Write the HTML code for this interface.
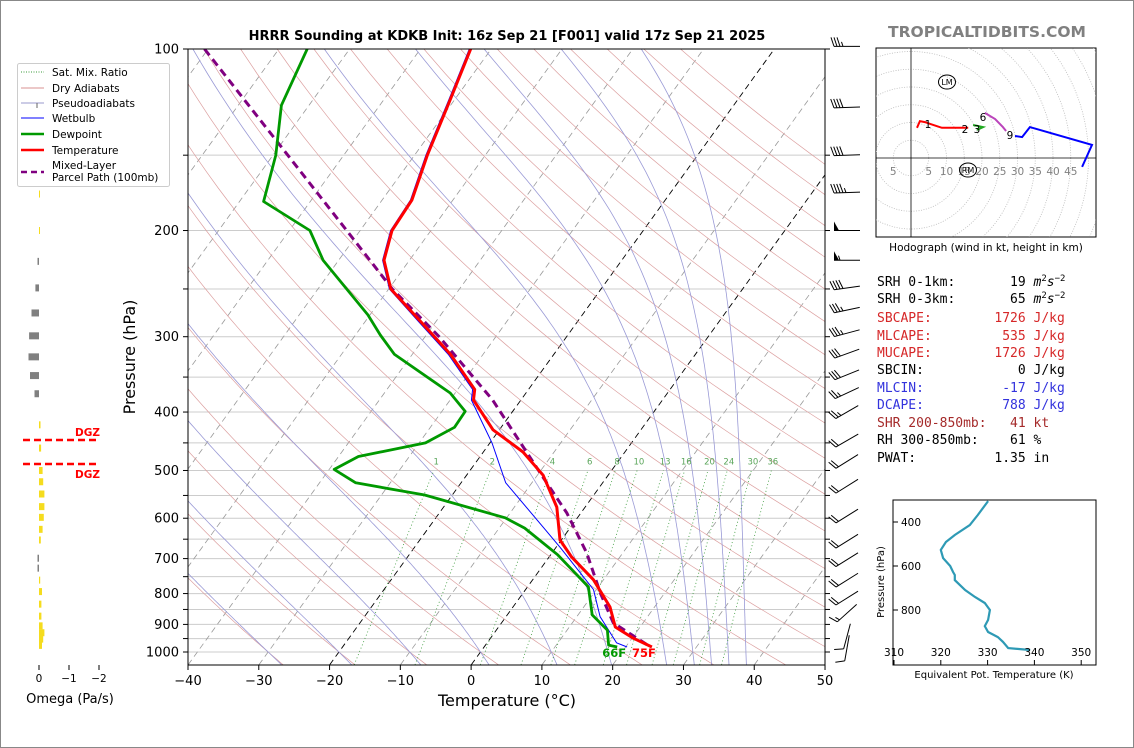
<!DOCTYPE html>
<html><head><meta charset="utf-8"><style>
html,body{margin:0;padding:0;background:#fff;}
svg{display:block;font-family:"DejaVu Sans","Liberation Sans",sans-serif;}
</style></head><body>
<svg id="fig" width="1134" height="748" viewBox="0 0 1134 748" xmlns="http://www.w3.org/2000/svg">
<rect x="0.5" y="0.5" width="1133" height="747" fill="#fff" stroke="#888"/>
<defs><clipPath id="mainclip"><rect x="188" y="49" width="637" height="616"/></clipPath>
<clipPath id="hodoclip"><rect x="876" y="48" width="220" height="189"/></clipPath>
<clipPath id="thclip"><rect x="893" y="500" width="203" height="165"/></clipPath></defs>
<g id="bg" clip-path="url(#mainclip)"></g>
<g id="prof" clip-path="url(#mainclip)"></g>
<g id="axes"></g>
<g id="omega"></g>
<g id="barbs"></g>
<g id="hodo"></g>
<g id="theta"></g>
<text x="507" y="40" text-anchor="middle" font-size="13" font-weight="bold">HRRR Sounding at KDKB Init: 16z Sep 21 [F001] valid 17z Sep 21 2025</text>
<text x="987" y="37" text-anchor="middle" font-size="15.5" font-weight="bold" fill="#808080">TROPICALTIDBITS.COM</text>
<text x="507" y="706" text-anchor="middle" font-size="16">Temperature (°C)</text>
<text transform="translate(135,357) rotate(-90)" text-anchor="middle" font-size="16">Pressure (hPa)</text>
<g>
<rect x="17.5" y="63.5" width="152" height="123" fill="#fff" stroke="#ccc" rx="2"/>
<line x1="21" y1="72" x2="44" y2="72" stroke="#3a9a3a" stroke-dasharray="1,1.5"/><text x="52" y="76" font-size="10.5">Sat. Mix. Ratio</text>
<line x1="21" y1="88" x2="44" y2="88" stroke="#d89090"/><text x="52" y="92" font-size="10.5">Dry Adiabats</text>
<line x1="21" y1="103" x2="44" y2="103" stroke="#9999cc"/><line x1="37" y1="103" x2="37" y2="108" stroke="#666"/><text x="52" y="107" font-size="10.5">Pseudoadiabats</text>
<line x1="21" y1="118" x2="44" y2="118" stroke="#0000ff"/><text x="52" y="122" font-size="10.5">Wetbulb</text>
<line x1="21" y1="134" x2="44" y2="134" stroke="#009900" stroke-width="2.5"/><text x="52" y="138" font-size="10.5">Dewpoint</text>
<line x1="21" y1="150" x2="44" y2="150" stroke="#ff0000" stroke-width="2.5"/><text x="52" y="154" font-size="10.5">Temperature</text>
<line x1="21" y1="172" x2="44" y2="172" stroke="#800080" stroke-width="2.5" stroke-dasharray="6,4"/><text x="52" y="169" font-size="10.5">Mixed-Layer</text><text x="52" y="181" font-size="10.5">Parcel Path (100mb)</text>
</g>
<g font-family="'DejaVu Sans Mono','Liberation Mono',monospace" font-size="13">
<text x="877" y="286" xml:space="preserve">SRH 0-1km:       19 <tspan font-style="italic">m</tspan><tspan font-size="9" dy="-5">2</tspan><tspan dy="5" font-style="italic">s</tspan><tspan font-size="9" dy="-5">−2</tspan></text>
<text x="877" y="303" xml:space="preserve">SRH 0-3km:       65 <tspan font-style="italic">m</tspan><tspan font-size="9" dy="-5">2</tspan><tspan dy="5" font-style="italic">s</tspan><tspan font-size="9" dy="-5">−2</tspan></text>
<text x="877" y="322" fill="#d62728" xml:space="preserve">SBCAPE:        1726 J/kg</text>
<text x="877" y="340" fill="#d62728" xml:space="preserve">MLCAPE:         535 J/kg</text>
<text x="877" y="357" fill="#d62728" xml:space="preserve">MUCAPE:        1726 J/kg</text>
<text x="877" y="374" xml:space="preserve">SBCIN:            0 J/kg</text>
<text x="877" y="392" fill="#3333dd" xml:space="preserve">MLCIN:          -17 J/kg</text>
<text x="877" y="409" fill="#3333dd" xml:space="preserve">DCAPE:          788 J/kg</text>
<text x="877" y="427" fill="#a52a2a" xml:space="preserve">SHR 200-850mb:   41 kt</text>
<text x="877" y="444" xml:space="preserve">RH 300-850mb:    61 %</text>
<text x="877" y="462" xml:space="preserve">PWAT:          1.35 in</text>
</g>
</svg>
<script>
// ---------- data ----------
const tempP = [100,121.5,150,178,200,224,250,282,321,367,382,428,466,509,575,652,696,759,842,909,948,981];
const tempT = [-62.9,-60.6,-58.2,-55.8,-55.5,-53.6,-49.7,-42.4,-34.6,-27.6,-26.7,-20.9,-14.4,-9.2,-4.0,-0.2,3.2,8.6,13.7,16.5,20.1,23.7];
const dewP = [100,124,150,179,200,224,276,298,321,372,399,424,450,474,498,524,549,599,623,690,780,868,920,974,981];
const dewT = [-86,-83.9,-79.6,-76.6,-67.1,-62.2,-50.3,-46.5,-42.5,-30.7,-26.7,-26.6,-29.1,-37.2,-39.3,-34.9,-23.9,-10.2,-6.4,1.0,8.6,12.0,15.7,17.4,18.8];
const parcelP = [100,150,200,250,300,382,514,588,685,798,895,974];
const parcelT = [-100.5,-77.9,-61.9,-49.5,-38.0,-24.0,-8.9,-2.0,4.9,10.9,15.8,22.9];
const wbP = [100,121.5,150,178,200,224,250,282,321,367,382,450,524,627,672,788,874,966,981];
const wbT = [-63.1,-60.8,-58.4,-56.0,-55.7,-53.8,-49.9,-42.7,-34.9,-27.9,-27.0,-19.7,-13.7,-3.3,0.7,9.6,13.3,18.3,20.2];
const mixRatios = [1,2,4,6,8,10,13,16,20,24,30,36];
const dryTheta0 = [-30,-20,-10,0,10,20,30,40,50,60,70,80,90,100,110,120,130,140,150,160,170,180,190];
const moistT0 = [-30,-20,-10,0,10,18,26,30,32.5,35,37.5];
const isobars = [100,150,200,250,300,350,400,450,500,550,600,650,700,750,800,850,900,950,1000];
const pLabels = [100,200,300,400,500,600,700,800,900,1000];
const tTicks = [-40,-30,-20,-10,0,10,20,30,40,50];
const omegaP = [174,200,225,249,274,299,324,348,373,420,459,500,522,547,574,598,626,652,699,726,760,794,833,872,905,929,952,975];
const omegaV = [-0.03,-0.03,0.05,0.12,0.25,0.33,0.35,0.3,0.15,-0.05,-0.07,-0.12,-0.14,-0.18,-0.18,-0.16,-0.12,-0.06,0.05,0.05,-0.04,-0.1,-0.08,-0.08,-0.12,-0.18,-0.14,-0.1];
const windP = [99,125,150,173,200,224,249,271,296,320,347,372,400,446,483,531,595,655,703,760,814,862,942,985];
const windDir = [270,268,268,268,270,270,262,258,255,250,248,245,240,240,238,238,238,238,238,238,238,228,195,190];
const windSpd = [35,40,40,45,50,55,40,35,35,30,30,25,25,20,20,20,20,20,20,20,20,15,10,10];
const hodoRedU = [1.7,2.5,3.9,5.4,8.7,13.8,16.1];
const hodoRedV = [8.5,10.4,10.1,9.6,8.5,8.5,8.5];
const hodoGreenU = [17.5,20.3,18.6];
const hodoGreenV = [9.3,8.7,7.9];
const hodoMagU = [20.8,23.7,25.9,26.8];
const hodoMagV = [12.7,11.0,8.7,7.6];
const hodoBlueU = [29.3,31.3,33.5,51,48.2];
const hodoBlueV = [6.2,5.9,8.7,3.7,-2.5];
const thetaP = [305,368,414,459,491,527,564,600,627,641,664,709,741,768,800,845,873,900,923,945,973,982];
const thetaE = [330.1,327.9,326.2,323.0,321.1,320.0,320.5,322.0,322.6,323.0,323.0,325.2,327.3,329.4,330.5,330.1,329.4,330.1,332.2,333.3,334.4,339.1];

// ---------- helpers ----------
const NS='http://www.w3.org/2000/svg';
function mk(tag, attrs, parent){const e=document.createElementNS(NS,tag);for(const k in attrs)e.setAttribute(k,attrs[k]);parent.appendChild(e);return e;}
const yP = p => 49 + 603*Math.log10(p/100);
const xT = (T,p) => 188 + (T+40)*7.078 + 0.722*(665 - yP(p));
function pathPT(P,T){return P.map((p,i)=>(i?'L':'M')+xT(T[i],p).toFixed(1)+','+yP(p).toFixed(1)).join('');}
const bg=document.getElementById('bg'), prof=document.getElementById('prof'), axes=document.getElementById('axes');

isobars.forEach(p=>{const l=mk('line',{x1:188,x2:825,y1:yP(p),y2:yP(p),stroke:'#cccccc','stroke-width':1},bg);

});
for(let T=-130;T<=50;T+=10){const hi=(T===0||T===-20);
 const l=mk('line',{x1:xT(T,1050),y1:yP(1050),x2:xT(T,100),y2:yP(100),stroke:hi?'#000':'#999','stroke-width':hi?0.9:0.8,'stroke-dasharray':'6,4'},bg);
 
 }
dryTheta0.forEach(t0=>{const th=t0+273.15;let d='';for(let p=1050;p>=100;p-=10){const T=th*Math.pow(p/1000,0.2857)-273.15;d+=(d?'L':'M')+xT(T,p).toFixed(1)+','+yP(p).toFixed(1);}
 const e=mk('path',{d:d,fill:'none',stroke:'#dca0a0','stroke-width':0.7},bg);
 
 });
function dTdp(T,p){const Tc=T-273.15;const es=6.112*Math.exp(17.67*Tc/(Tc+243.5));const rs=0.622*es/(p-es);
 return (287*T+2.5e6*rs)/(p*(1005+2.5e6*2.5e6*rs*0.622/(287*T*T)));}
moistT0.forEach(t0=>{let pts=[];let T=t0+273.15;
 let T2=T;for(let p=1000;p<1050;p+=5){T2+=dTdp(T2,p)*5;}pts.push([1050,T2]);
 for(let p=1000;p>=100;p-=5){pts.push([p,T]);T-=dTdp(T,p)*5;}
 pts.sort((a,b)=>b[0]-a[0]);
 const d=pts.map((q,i)=>(i?'L':'M')+xT(q[1]-273.15,q[0]).toFixed(1)+','+yP(q[0]).toFixed(1)).join('');
 const e=mk('path',{d:d,fill:'none',stroke:'#9a9ad6','stroke-width':0.8},bg);
 
 });
function tdFromW(w,p){const e=p*w/1000/(0.622+w/1000);const a=Math.log(e/6.112);return 243.5*a/(17.67-a);}
mixRatios.forEach(w=>{const e=mk('line',{x1:xT(tdFromW(w,1050),1050),y1:yP(1050),x2:xT(tdFromW(w,500),500),y2:yP(500),stroke:'#3a9a3a','stroke-width':0.8,'stroke-dasharray':'1,2.5'},bg);
 
 
 const t=mk('text',{x:xT(tdFromW(w,490),490),y:yP(490)-0.5,'font-size':8.5,fill:'#5aa55a','text-anchor':'middle'},bg);t.textContent=w;
 
 });

let e;
e=mk('path',{d:pathPT(parcelP,parcelT),fill:'none',stroke:'#800080','stroke-width':3,'stroke-dasharray':'8,5'},prof);


e=mk('path',{d:pathPT(wbP,wbT),fill:'none',stroke:'#0000ff','stroke-width':1},prof);


e=mk('path',{d:pathPT(dewP,dewT),fill:'none',stroke:'#009900','stroke-width':2.8,'stroke-linejoin':'round'},prof);


e=mk('path',{d:pathPT(tempP,tempT),fill:'none',stroke:'#ff0000','stroke-width':3,'stroke-linejoin':'round'},prof);


const sT=tempT[tempT.length-1], sD=dewT[dewT.length-1], sP=tempP[tempP.length-1];
e=mk('text',{x:xT(sT,sP)-8,y:yP(sP)+10,'font-size':11.5,'font-weight':'bold',fill:'#ff0000','text-anchor':'middle'},axes);e.textContent=Math.round(sT*9/5+32)+'F';


e=mk('text',{x:xT(sD,sP)-3,y:yP(sP)+10,'font-size':11.5,'font-weight':'bold',fill:'#009900','text-anchor':'middle'},axes);e.textContent=Math.round(sD*9/5+32)+'F';



mk('rect',{x:188,y:49,width:637,height:616,fill:'none',stroke:'#000','stroke-width':1},axes);
isobars.forEach(p=>{mk('line',{x1:183,x2:188,y1:yP(p),y2:yP(p),stroke:'#000'},axes);mk('line',{x1:825,x2:830,y1:yP(p),y2:yP(p),stroke:'#000'},axes);});
pLabels.forEach(p=>{const t=mk('text',{x:179,y:yP(p)+4.5,'font-size':13,'text-anchor':'end'},axes);t.textContent=p;
 
 });
tTicks.forEach(T=>{const x=188+(T+40)*7.078;mk('line',{x1:x,x2:x,y1:665,y2:670,stroke:'#000'},axes);
 const t=mk('text',{x:x,y:685,'font-size':13,'text-anchor':'middle'},axes);t.textContent=(T<0?'−':'')+Math.abs(T);
 
 });

const om=document.getElementById('omega');
const xO=v=>39 - v*30;
omegaP.forEach((p,i)=>{const v=omegaV[i];const x0=xO(0),x1=xO(v);
 const r=mk('rect',{x:Math.min(x0,x1),y:yP(p)-3.5,width:Math.max(1,Math.abs(x1-x0)),height:7,fill:v>0?'#808080':'#f5dc1e'},om);
 
 });
[0,-1,-2].forEach(v=>{mk('line',{x1:xO(v),x2:xO(v),y1:665,y2:670,stroke:'#000'},om);
 const t=mk('text',{x:xO(v),y:682,'font-size':10.5,'text-anchor':'middle'},om);t.textContent=v===0?'0':'−'+Math.abs(v);
 
 });
e=mk('text',{x:70,y:703,'font-size':13,'text-anchor':'middle'},om);e.textContent='Omega (Pa/s)';


[440,464].forEach((y,i)=>{mk('line',{x1:23,x2:99,y1:y,y2:y,stroke:'#ff0000','stroke-width':2.5,'stroke-dasharray':'7,4'},om);
 const t=mk('text',{x:100,y:i?478:436,'font-size':10.5,'font-weight':'bold',fill:'#ff0000','text-anchor':'end'},om);t.textContent='DGZ';
 
 });

const bb=document.getElementById('barbs');
windP.forEach((p,i)=>{const y=yP(p);const rad=windDir[i]*Math.PI/180;
 const u=-Math.sin(rad), v=-Math.cos(rad);
 const dx=-u, dy=v;
 const n=Math.hypot(dx,dy);const ux=dx/n, uy=dy/n;
 const L=26, ax=847+ux*(-L/2), ay=y+uy*(-L/2);
 const tx=ax+ux*L, ty=ay+uy*L;
 const g=mk('g',{},bb);
 
 
 mk('line',{x1:ax,y1:ay,x2:tx,y2:ty,stroke:'#000','stroke-width':1},g);
 const px=-uy, py=ux;
 let s=windSpd[i], pos=0;
 while(s>=50){const bx=tx-ux*pos,by=ty-uy*pos;
  mk('polygon',{points:`${bx},${by} ${bx-ux*5},${by-uy*5} ${bx+px*9},${by+py*9}`,fill:'#000'},g);pos+=6;s-=50;}
 while(s>=10){const bx=tx-ux*pos,by=ty-uy*pos;mk('line',{x1:bx,y1:by,x2:bx+px*9+ux*3,y2:by+py*9+uy*3,stroke:'#000'},g);pos+=3;s-=10;}
 if(s>=5){if(pos===0)pos=3;const bx=tx-ux*pos,by=ty-uy*pos;mk('line',{x1:bx,y1:by,x2:bx+px*4.5+ux*1.5,y2:by+py*4.5+uy*1.5,stroke:'#000'},g);}
});

const hg=document.getElementById('hodo');
const hx=u=>911+u*3.55, hy=v=>158-v*3.55;
mk('rect',{x:876,y:48,width:220,height:189,fill:'#fff',stroke:'#000'},hg);
const hc=mk('g',{'clip-path':'url(#hodoclip)'},hg);
for(let k=1;k<=15;k++){mk('circle',{cx:911,cy:158,r:k*5*3.55,fill:'none',stroke:'#bbb','stroke-width':0.8,'stroke-dasharray':'1,1.5'},hc);}
mk('line',{x1:876,x2:1096,y1:158,y2:158,stroke:'#000','stroke-width':0.8},hc);
mk('line',{x1:911,x2:911,y1:48,y2:237,stroke:'#000','stroke-width':0.8},hc);
[5,5,10,15,20,25,30,35,40,45].forEach((k,i)=>{const t=mk('text',{x:i===0?hx(-5):hx(k),y:175,'font-size':10.5,fill:'#808080','text-anchor':'middle'},hc);t.textContent=k;
 
 });
function hline(U,V,col,name){const d=U.map((u,i)=>(i?'L':'M')+hx(u).toFixed(1)+','+hy(V[i]).toFixed(1)).join('');
 const e=mk('path',{d:d,fill:'none',stroke:col,'stroke-width':2},hc);
 
 }
hline(hodoRedU,hodoRedV,'#ff0000','hodo-0-3km');
hline(hodoGreenU,hodoGreenV,'#22aa22','hodo-3-6km');
hline(hodoMagU,hodoMagV,'#bb44bb','hodo-6-9km');
hline(hodoBlueU,hodoBlueV,'#0000ff','hodo-9km-plus');
[['1',928,128],['2',965,133],['3',977,133],['6',983,121],['9',1010,139]].forEach(a=>{const t=mk('text',{x:a[1],y:a[2],'font-size':10.5,'text-anchor':'middle'},hc);t.textContent=a[0];
 
 });
[['LM',947,82],['RM',968,170]].forEach(a=>{mk('ellipse',{cx:a[1],cy:a[2],rx:8.5,ry:7,fill:'none',stroke:'#000'},hc);
 const t=mk('text',{x:a[1],y:a[2]+3,'font-size':8,'text-anchor':'middle'},hc);t.textContent=a[0];
 
 });
e=mk('text',{x:986,y:251,'font-size':10.5,'text-anchor':'middle'},hg);e.textContent='Hodograph (wind in kt, height in km)';



const tg=document.getElementById('theta');
const txK=k=>894+(k-310)*4.68, tyP=p=>522+(p-400)*0.22;
mk('rect',{x:893,y:500,width:203,height:165,fill:'#fff',stroke:'#000'},tg);
const tcl=mk('g',{'clip-path':'url(#thclip)'},tg);
e=mk('path',{d:thetaP.map((p,i)=>(i?'L':'M')+txK(thetaE[i]).toFixed(1)+','+tyP(p).toFixed(1)).join(''),fill:'none',stroke:'#2e9ab5','stroke-width':2.2},tcl);


[400,600,800].forEach(p=>{mk('line',{x1:893,x2:898,y1:tyP(p),y2:tyP(p),stroke:'#000'},tg);
 const t=mk('text',{x:901,y:tyP(p)+4,'font-size':10.5},tg);t.textContent=p;
 
 });
[310,320,330,340,350].forEach(k=>{mk('line',{x1:txK(k),x2:txK(k),y1:665,y2:660,stroke:'#000'},tg);
 const t=mk('text',{x:txK(k),y:656,'font-size':10.5,'text-anchor':'middle'},tg);t.textContent=k;
 
 });
e=mk('text',{x:994,y:678,'font-size':10,'text-anchor':'middle'},tg);e.textContent='Equivalent Pot. Temperature (K)';


e=mk('text',{transform:'translate(884,582) rotate(-90)','font-size':10,'text-anchor':'middle'},tg);e.textContent='Pressure (hPa)';


</script>
</body></html>
